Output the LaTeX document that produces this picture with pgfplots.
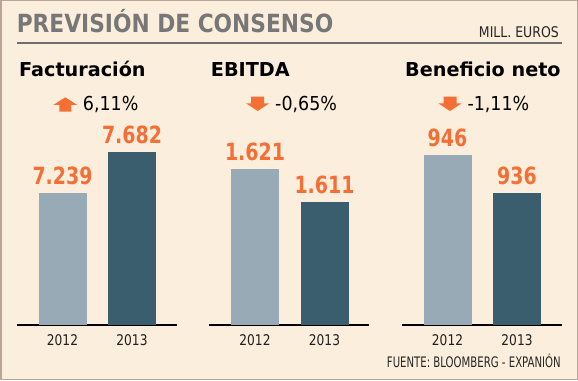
\documentclass[border=0pt]{standalone}
\usepackage{pgfplots}
\pgfplotsset{compat=1.18}
\usepackage{fontspec}
\setmainfont{DejaVu Sans}
\newfontfamily\titlefont{DejaVu Sans}[FakeStretch=0.87]
\newfontfamily\millfont{DejaVu Sans}[FakeStretch=0.85]
\newfontfamily\srcfont{DejaVu Sans}[FakeStretch=0.7]
\newfontfamily\pctfont{DejaVu Sans}[FakeStretch=0.91]
\newfontfamily\valfont{DejaVu Sans}[FakeStretch=0.8]
\newfontfamily\yearfont{DejaVu Sans}[FakeStretch=0.83]
\definecolor{bg}{HTML}{FCEEDC}
\definecolor{framec}{HTML}{B9A598}
\definecolor{titlegray}{HTML}{777777}
\definecolor{rulegray}{HTML}{6E6E6E}
\definecolor{orng}{HTML}{F36F36}
\definecolor{lightbar}{HTML}{98AAB5}
\definecolor{darkbar}{HTML}{3A5E6E}
\pgfplotsset{panel/.style={
  scale only axis, width=160pt, height=230pt, anchor=south west,
  xmin=0, xmax=160,
  axis y line=none, axis x line*=bottom,
  axis line style={black, line width=1.2pt},
  xtick={46,115.5}, xticklabels={2012,2013},
  xtick style={draw=none}, ytick=\empty,
  xticklabel style={font=\yearfont\fontsize{14.7}{16}\selectfont, text=black!88, yshift=-2pt},
  ybar, bar width=48pt,
  nodes near coords, point meta=explicit symbolic,
  every node near coord/.append style={font=\valfont\bfseries\fontsize{23.7}{26}\selectfont, text=orng, anchor=base, yshift=8.5pt},
}}
\begin{document}
\begin{tikzpicture}
\useasboundingbox (0,0) rectangle (578pt,380pt);
\begin{scope}[x=1pt,y=1pt]
\fill[bg] (0,0) rectangle (578,380);
\draw[framec, line width=1.5pt] (0.75,0.75) rectangle (577.25,379.25);
\node[anchor=base west, inner sep=0, text=titlegray] at (16.6,347) {\titlefont\bfseries\fontsize{25}{28}\selectfont PREVISIÓN DE CONSENSO};
\node[anchor=base east, inner sep=0, text=black!85] at (559,342.7) {\millfont\fontsize{14.7}{16}\selectfont MILL. EUROS};
\draw[rulegray, line width=2.2pt] (17,337) -- (562,337);
\node[anchor=base west, inner sep=0] at (19,303.3) {\bfseries\fontsize{19.2}{22}\selectfont Facturación};
\node[anchor=base west, inner sep=0] at (210.7,303.3) {\bfseries\fontsize{19.2}{22}\selectfont EBITDA};
\node[anchor=base west, inner sep=0] at (405,303.3) {\bfseries\fontsize{19.2}{22}\selectfont Beneficio neto};
% arrows
\fill[orng] (53.3,275) -- (65.3,282.7) -- (77.3,275) -- (71.3,275) -- (71.3,268.3) -- (59.3,268.3) -- (59.3,275) -- cycle;
\fill[orng] (251.2,283.3) -- (264.2,283.3) -- (264.2,276.7) -- (269.3,276.7) -- (257.7,269) -- (246,276.7) -- (251.2,276.7) -- cycle;
\fill[orng] (443.5,283.3) -- (456.5,283.3) -- (456.5,276.7) -- (461.7,276.7) -- (450,269) -- (438.3,276.7) -- (443.5,276.7) -- cycle;
\node[anchor=base west, inner sep=0] at (82.7,269.3) {\pctfont\fontsize{19.2}{22}\selectfont 6,11\%};
\node[anchor=base west, inner sep=0] at (275,269.3) {\pctfont\fontsize{19.2}{22}\selectfont -0,65\%};
\node[anchor=base west, inner sep=0] at (467.3,269.3) {\pctfont\fontsize{19.2}{22}\selectfont -1,11\%};
\node[anchor=base east, inner sep=0, text=black!85] at (561,12.5) {\srcfont\fontsize{14.5}{16}\selectfont FUENTE: BLOOMBERG - EXPANIÓN};
\end{scope}

\begin{axis}[panel, at={(16.5pt,55pt)}, ymin=5809.5, ymax=8294.7]
\addplot[fill=lightbar, draw=none, bar shift=0pt] coordinates {(46,7239) [7.239]};
\addplot[fill=darkbar, draw=none, bar shift=0pt] coordinates {(115.5,7682) [7.682]};
\end{axis}
\begin{axis}[panel, at={(209pt,55pt)}, ymin=1573.8, ymax=1643.5]
\addplot[fill=lightbar, draw=none, bar shift=0pt] coordinates {(46,1621) [1.621]};
\addplot[fill=darkbar, draw=none, bar shift=0pt] coordinates {(115.5,1611) [1.611]};
\end{axis}
\begin{axis}[panel, at={(401.5pt,55pt)}, ymin=901.26, ymax=961.79]
\addplot[fill=lightbar, draw=none, bar shift=0pt] coordinates {(46,946) [946]};
\addplot[fill=darkbar, draw=none, bar shift=0pt] coordinates {(115.5,936) [936]};
\end{axis}
\end{tikzpicture}
\end{document}
